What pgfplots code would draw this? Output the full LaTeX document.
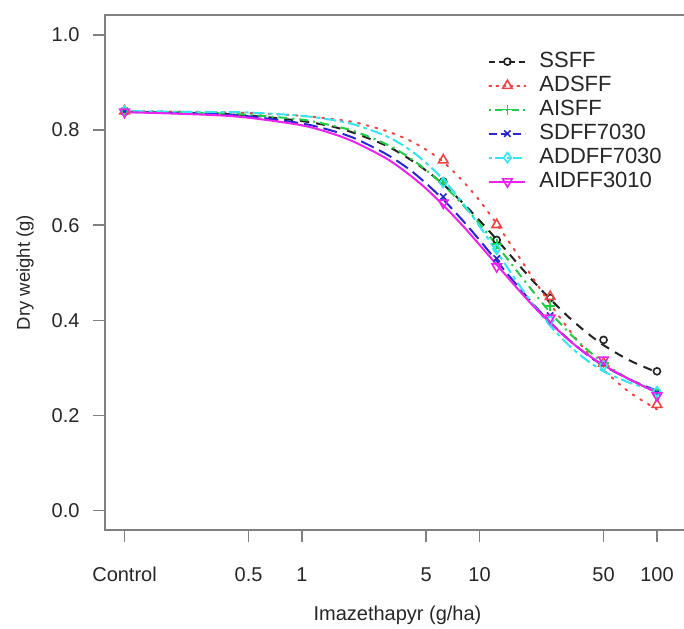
\documentclass[border=0pt]{standalone}
\usepackage{fontspec}
\setmainfont{Liberation Sans}
\usepackage{pgfplots}
\pgfplotsset{compat=1.18}
\definecolor{rblack}{HTML}{222222}
\definecolor{rred}{HTML}{EE4444}
\definecolor{rgreen}{HTML}{22CC44}
\definecolor{rblue}{HTML}{2828D0}
\definecolor{rcyan}{HTML}{33E5EE}
\definecolor{rmag}{HTML}{EE22EE}
\definecolor{axgray}{HTML}{808080}
\begin{document}
\begin{tikzpicture}
\useasboundingbox (-105pt,-98pt) rectangle (579pt,530pt);
\begin{axis}[
  scale only axis, width=585pt, height=515pt,
  xmode=log, xmin=0.0776, xmax=153.5, ymin=-0.0406, ymax=1.042,
  xtick={0.1,0.5,1,5,10,50,100},
  xticklabels={Control,0.5,1,5,10,50,100},
  ytick={0,0.2,0.4,0.6,0.8,1.0},
  xtick pos=bottom, ytick pos=left,
  yticklabel style={/pgf/number format/fixed, /pgf/number format/fixed zerofill, /pgf/number format/precision=1, xshift=-10pt},
  /pgf/number format/assume math mode=true,
  minor tick num=0,
  xminorticks=false,
  tick align=outside, major tick length=12pt,
  tick style={axgray, line width=1.6pt},
  axis line style={axgray, line width=1.8pt},
  tick label style={font=\fontsize{20}{23}\selectfont, text=black!85},
  xlabel={Imazethapyr (g/ha)}, ylabel={Dry weight (g)},
  xlabel style={at={(axis description cs:0.5,0)}, anchor=center, yshift=-85pt, font=\fontsize{20}{23}\selectfont, text=black!85},
  ylabel style={at={(axis description cs:0,0.5)}, anchor=center, yshift=80pt, font=\fontsize{18.5}{22}\selectfont, text=black!85},
  xticklabel style={yshift=-34pt, anchor=center, text height=14pt, text depth=4pt},
  legend style={draw=none, fill=none, at={(0.650,0.936)}, anchor=north west,
    font=\fontsize{22}{24}\selectfont, text=black!85, row sep=1pt,
    nodes={inner sep=2pt, text height=15pt, text depth=4pt},
    /tikz/every odd column/.append style={column sep=11pt}},
  legend cell align=left,
  legend image code/.code={\draw[mark repeat=2,mark phase=2,#1] plot coordinates {(0pt,0pt)(18pt,0pt)(36pt,0pt)};},
  every axis plot/.append style={line width=2pt},
  mark size=4pt,
]
% ---------- fitted curves ----------
\addplot[rblack, dash pattern=on 9pt off 7pt, smooth, forget plot] coordinates {
(0.1,0.839)(0.3,0.835)(0.5,0.831)(1,0.819)(1.5,0.807)(2,0.793)(3,0.767)(4,0.740)(5,0.715)(6.25,0.686)(8,0.648)(10,0.610)(12.5,0.570)(16,0.524)(20,0.483)(25,0.445)(32,0.406)(40,0.375)(50,0.348)(70,0.316)(100,0.291)};
\addplot[rred, dash pattern=on 2pt off 7pt, line cap=round, smooth, forget plot] coordinates {
(0.1,0.840)(0.3,0.838)(0.5,0.836)(1,0.830)(1.5,0.823)(2,0.816)(3,0.798)(4,0.779)(5,0.759)(6.25,0.733)(8,0.694)(10,0.652)(12.5,0.603)(16,0.544)(20,0.489)(25,0.435)(32,0.380)(40,0.335)(50,0.296)(70,0.249)(100,0.213)};
\addplot[rgreen, dash pattern=on 2pt off 5pt on 9pt off 5pt, smooth, forget plot] coordinates {
(0.1,0.839)(0.3,0.836)(0.5,0.832)(1,0.822)(1.5,0.809)(2,0.797)(3,0.770)(4,0.743)(5,0.716)(6.25,0.685)(8,0.644)(10,0.603)(12.5,0.558)(16,0.507)(20,0.461)(25,0.417)(32,0.374)(40,0.340)(50,0.311)(70,0.276)(100,0.250)};
\addplot[rblue, dash pattern=on 14pt off 6pt, smooth, forget plot] coordinates {
(0.1,0.838)(0.3,0.834)(0.5,0.829)(1,0.814)(1.5,0.798)(2,0.782)(3,0.749)(4,0.718)(5,0.688)(6.25,0.654)(8,0.611)(10,0.569)(12.5,0.525)(16,0.477)(20,0.435)(25,0.396)(32,0.359)(40,0.329)(50,0.305)(70,0.276)(100,0.252)};
\addplot[rcyan, dash pattern=on 4pt off 4pt on 12pt off 4pt, smooth, forget plot] coordinates {
(0.1,0.840)(0.3,0.838)(0.5,0.837)(1,0.830)(1.5,0.821)(2,0.811)(3,0.787)(4,0.760)(5,0.731)(6.25,0.696)(8,0.648)(10,0.598)(12.5,0.545)(16,0.485)(20,0.434)(25,0.389)(32,0.347)(40,0.317)(50,0.293)(70,0.269)(100,0.252)};
\addplot[rmag, smooth, forget plot] coordinates {
(0.1,0.838)(0.3,0.832)(0.5,0.826)(1,0.810)(1.5,0.792)(2,0.774)(3,0.740)(4,0.707)(5,0.677)(6.25,0.642)(8,0.600)(10,0.559)(12.5,0.517)(16,0.471)(20,0.431)(25,0.395)(32,0.358)(40,0.330)(50,0.306)(70,0.276)(100,0.248)};
% ---------- observed points ----------
\addplot[rblack, only marks, mark=o, mark options={solid, line width=1.6pt}, mark size=3.5pt, forget plot] coordinates {
(0.1,0.840)(6.25,0.692)(12.5,0.569)(25,0.447)(50,0.359)(100,0.293)};
\addplot[rred, only marks, mark=triangle, mark options={solid, line width=1.6pt}, mark size=5.5pt, forget plot] coordinates {
(0.1,0.840)(6.25,0.737)(12.5,0.601)(25,0.450)(50,0.310)(100,0.223)};
\addplot[rgreen, only marks, mark=+, mark options={solid, line width=1.6pt}, mark size=5pt, forget plot] coordinates {
(0.1,0.840)(6.25,0.690)(12.5,0.560)(25,0.430)(50,0.310)(100,0.245)};
\addplot[rblue, only marks, mark=x, mark options={solid, line width=1.6pt}, mark size=4.5pt, forget plot] coordinates {
(0.1,0.840)(6.25,0.660)(12.5,0.530)(25,0.410)(50,0.310)(100,0.248)};
\addplot[rcyan, only marks, mark=diamond, mark options={solid, line width=1.6pt}, mark size=5pt, forget plot] coordinates {
(0.1,0.840)(6.25,0.690)(12.5,0.550)(25,0.400)(50,0.305)(100,0.250)};
\addplot[rmag, only marks, mark=triangle, mark options={solid, rotate=180, line width=1.6pt}, mark size=5.5pt, forget plot] coordinates {
(0.1,0.838)(6.25,0.647)(12.5,0.513)(25,0.405)(50,0.317)(100,0.242)};
% ---------- legend ----------
\addlegendimage{rblack, line width=2pt, dash pattern=on 6pt off 4pt, mark=o, mark options={solid, line width=1.6pt}, mark size=3.5pt}
\addlegendentry{SSFF}
\addlegendimage{rred, line width=2pt, dash pattern=on 2pt off 5pt, line cap=round, mark=triangle, mark options={solid, line width=1.6pt}, mark size=5.5pt}
\addlegendentry{ADSFF}
\addlegendimage{rgreen, line width=2pt, dash pattern=on 2pt off 4pt on 7pt off 4pt, mark=+, mark options={solid, line width=1.6pt}, mark size=5pt}
\addlegendentry{AISFF}
\addlegendimage{rblue, line width=2pt, dash pattern=on 8pt off 4pt, mark=x, mark options={solid, line width=1.6pt}, mark size=4.5pt}
\addlegendentry{SDFF7030}
\addlegendimage{rcyan, line width=2pt, dash pattern=on 3pt off 3pt on 9pt off 3pt, mark=diamond, mark options={solid, line width=1.6pt}, mark size=5pt}
\addlegendentry{ADDFF7030}
\addlegendimage{rmag, line width=2pt, mark=triangle, mark options={solid, rotate=180, line width=1.6pt}, mark size=5.5pt}
\addlegendentry{AIDFF3010}
\end{axis}
\end{tikzpicture}
\end{document}
